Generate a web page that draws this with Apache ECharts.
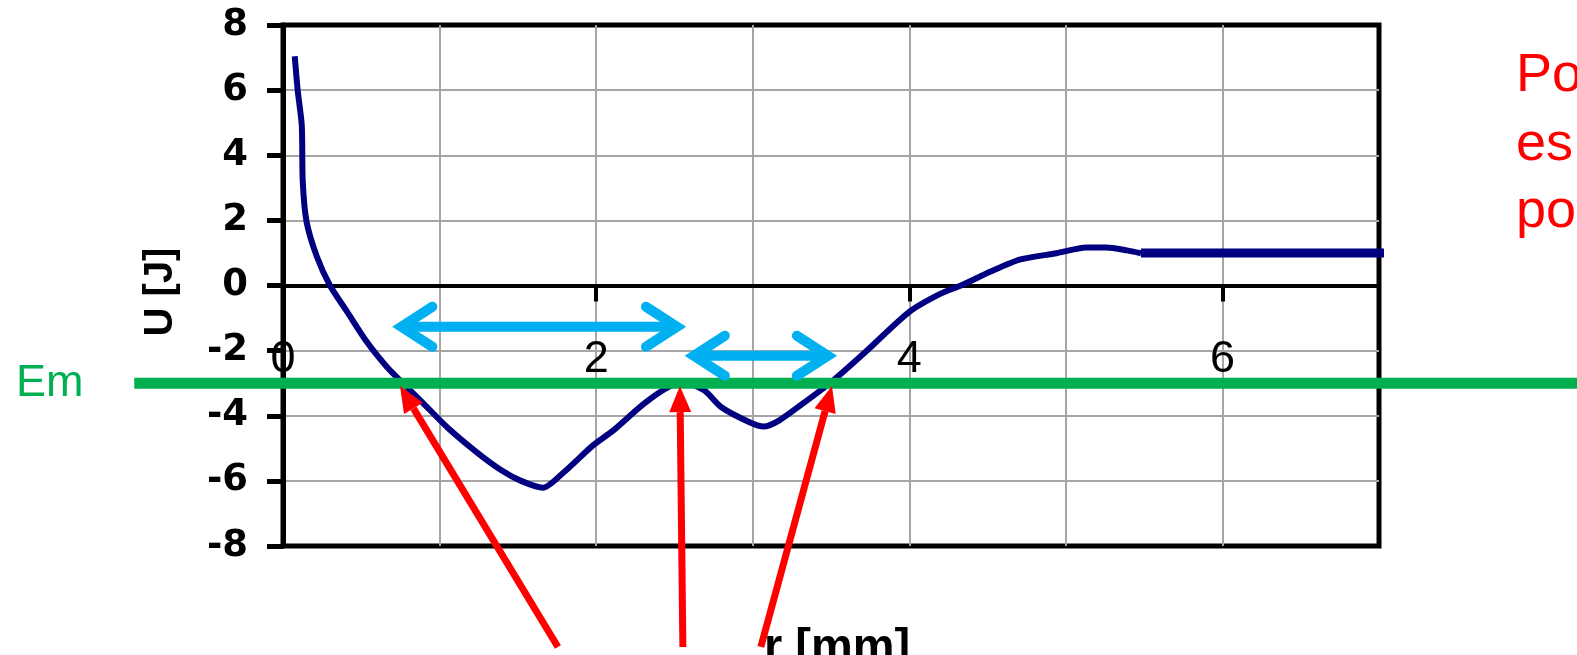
<!DOCTYPE html>
<html><head><meta charset="utf-8">
<script src="https://cdn.jsdelivr.net/npm/echarts/dist/echarts.min.js"></script>
<style>html,body{margin:0;padding:0;background:#fff;overflow:hidden}#c{width:1577px;height:655px}</style>
</head><body><div id="c"></div>
<script>
// Potential energy curve U(r)
const rCurve = [0.075,0.094,0.12,0.126,0.15,0.216,0.30,0.41,0.535,0.665,0.76,0.89,1.05,1.24,1.40,1.52,1.66,1.79,1.98,2.11,2.30,2.46,2.56,2.69,2.80,2.98,3.07,3.17,3.33,3.50,3.72,4.00,4.20,4.33,4.52,4.71,4.94,5.13,5.26,5.39,5.48];
const uCurve = [7.04,5.99,4.91,3.21,1.97,0.89,0.0,-0.81,-1.73,-2.51,-2.97,-3.59,-4.36,-5.13,-5.69,-6.0,-6.21,-5.75,-4.91,-4.45,-3.65,-3.12,-2.97,-3.22,-3.74,-4.2,-4.33,-4.14,-3.59,-2.97,-2.04,-0.81,-0.25,0.0,0.43,0.80,0.99,1.17,1.17,1.08,0.99];
const rTail = [5.48, 7.05];
const uTail = [1.0, 1.0];
const xLabelTicks = [0, 2, 4, 6];
const yTickLabels = [-8, -6, -4, -2, 0, 2, 4, 6, 8];
// Annotations (data units)
const emLevel = -3;
const emSpan = [-0.95, 8.4];
const blueArrows = [[0.743, 2.529, -1.265], [2.611, 3.493, -2.156]];
const redArrows = [[1.756, -11.1, 0.747, -3.09], [2.554, -11.1, 2.535, -3.09], [3.052, -11.1, 3.506, -3.09]];
const sideText = ['Por', 'es', 'po'];

const chart = echarts.init(document.getElementById('c'), null, {renderer: 'canvas'});
const grayGrid = {color: '#a6a6a6', width: 2};
chart.setOption({
  animation: false,
  grid: {left: 283, top: 25, right: 198, bottom: 109, show: true, borderColor: '#000', borderWidth: 5, backgroundColor: 'transparent'},
  xAxis: [
    {type: 'value', min: 0, max: 7, interval: 1, position: 'bottom',
     axisLine: {show: false, onZero: false}, axisTick: {show: false}, axisLabel: {show: false},
     splitLine: {show: true, showMinLine: false, showMaxLine: false, lineStyle: grayGrid}},
    {type: 'value', min: 0, max: 7, interval: 2, position: 'bottom',
     axisLine: {show: true, onZero: true, lineStyle: {color: '#000', width: 4}},
     axisTick: {show: true, length: 16, lineStyle: {color: '#000', width: 4}},
     axisLabel: {margin: -209, fontSize: 45, fontFamily: 'Liberation Sans Narrow, Liberation Sans, Arial', color: '#000',
       formatter: v => xLabelTicks.includes(v) ? String(v) : ''},
     splitLine: {show: false}}
  ],
  yAxis: {type: 'value', min: -8, max: 8, interval: 2,
    axisLine: {show: true, onZero: false, lineStyle: {color: '#000', width: 5}},
    axisTick: {show: true, length: 16, lineStyle: {color: '#000', width: 5}},
    axisLabel: {margin: 35, fontSize: 37, fontWeight: 'bold', fontFamily: 'DejaVu Sans', color: '#000',
      formatter: v => yTickLabels.includes(v) ? String(v) : ''},
    splitLine: {show: true, showMinLine: false, showMaxLine: false, lineStyle: grayGrid}},
  series: [
    {type: 'line', xAxisIndex: 0, data: rCurve.map((r, i) => [r, uCurve[i]]), showSymbol: false, smooth: 0.25, clip: false,
     lineStyle: {color: '#000080', width: 6}, z: 3},
    {type: 'line', xAxisIndex: 0, data: rTail.map((r, i) => [r, uTail[i]]), showSymbol: false, clip: false,
     lineStyle: {color: '#000080', width: 9}, z: 3}
  ]
});

const P = (x, y) => chart.convertToPixel({xAxisIndex: 0, yAxisIndex: 0}, [x, y]);
const els = [];
// axis titles
els.push({type: 'text', x: 161, y: 292, rotation: Math.PI / 2, z: 10,
  style: {text: 'U [J]', font: 'bold 40px "Liberation Sans", Arial', fill: '#000', align: 'center', verticalAlign: 'middle'}});
els.push({type: 'text', x: 837, y: 648, z: 10,
  style: {text: 'r [mm]', font: 'bold 47px "Liberation Sans", Arial', fill: '#000', align: 'center', verticalAlign: 'middle'}});
// Em line
const eA = P(emSpan[0], emLevel), eB = P(emSpan[1], emLevel);
els.push({type: 'line', z: 20, shape: {x1: eA[0], y1: eA[1], x2: eB[0], y2: eB[1]}, style: {stroke: '#00b050', lineWidth: 11}});
els.push({type: 'text', x: 16, y: eA[1], z: 20,
  style: {text: 'Em', font: '45px "Liberation Sans", Arial', fill: '#00b050', align: 'left', verticalAlign: 'middle'}});
// red arrows
redArrows.forEach(a => {
  const t = P(a[0], a[1]), h = P(a[2], a[3]);
  const dx = h[0] - t[0], dy = h[1] - t[1], L = Math.hypot(dx, dy), ux = dx / L, uy = dy / L;
  const hl = 26, hw = 11;
  const bx = h[0] - ux * hl, by = h[1] - uy * hl;
  els.push({type: 'line', z: 30, shape: {x1: t[0], y1: t[1], x2: bx, y2: by}, style: {stroke: '#ff0000', lineWidth: 7}});
  els.push({type: 'polygon', z: 30, shape: {points: [[h[0], h[1]], [bx - uy * hw, by + ux * hw], [bx + uy * hw, by - ux * hw]]}, style: {fill: '#ff0000'}});
});
// blue double arrows
blueArrows.forEach(a => {
  const l = P(a[0], a[2]), r = P(a[1], a[2]);
  const st = {stroke: '#00b0f0', lineWidth: 10, lineCap: 'round', lineJoin: 'miter', fill: null};
  els.push({type: 'line', z: 31, shape: {x1: l[0] + 5, y1: l[1], x2: r[0] - 5, y2: r[1]}, style: st});
  els.push({type: 'polyline', z: 31, shape: {points: [[l[0] + 33, l[1] - 20], [l[0] + 2, l[1]], [l[0] + 33, l[1] + 20]]}, style: st});
  els.push({type: 'polyline', z: 31, shape: {points: [[r[0] - 33, r[1] - 20], [r[0] - 2, r[1]], [r[0] - 33, r[1] + 20]]}, style: st});
});
// red side text
const sideY = [76, 145, 212];
sideText.forEach((t, i) => {
  els.push({type: 'text', x: 1516, y: sideY[i], z: 10,
    style: {text: t, font: '54px "Liberation Sans", Arial', fill: '#ff0000', align: 'left', verticalAlign: 'middle'}});
});
chart.setOption({graphic: {elements: els}});
</script>
</body></html>
